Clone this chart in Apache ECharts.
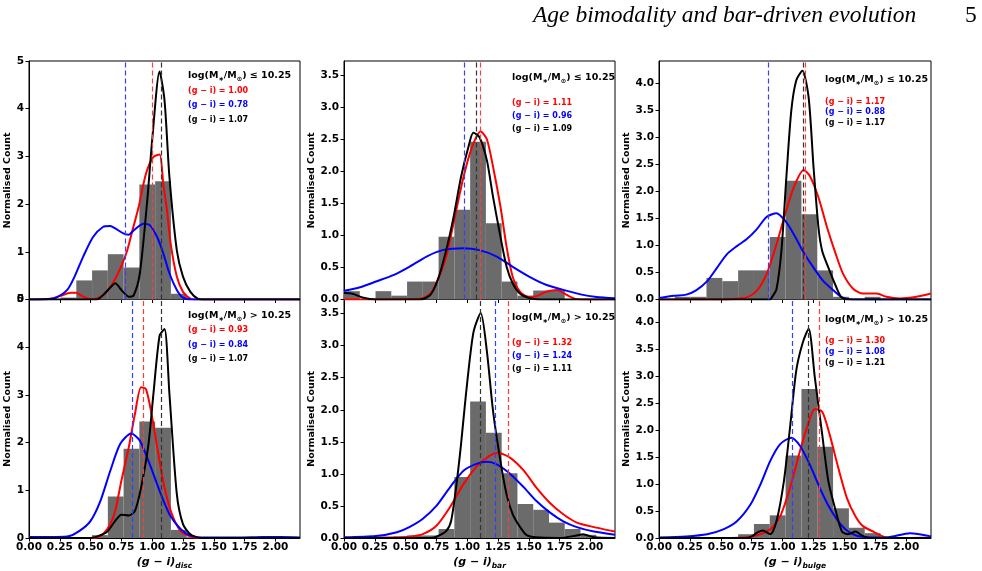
<!DOCTYPE html>
<html>
<head>
<meta charset="utf-8">
<script src="https://cdn.jsdelivr.net/npm/echarts@6/dist/echarts.min.js"></script>
<style>
  html, body { margin: 0; background: #fff; }
  #container { width: 982px; height: 571px; }
</style>
</head>
<body>
<div id="container"></div>
<script>
// histogram bins all start at 0 and are binWidth wide
const binWidth = 0.128;
const xTicks = [0, 0.25, 0.5, 0.75, 1, 1.25, 1.5, 1.75, 2];
const yTicksDisc = [0, 1, 2, 3, 4, 5];
const yTicksBar = [0, 0.5, 1, 1.5, 2, 2.5, 3, 3.5];
const yTicksBulge = [0, 0.5, 1, 1.5, 2, 2.5, 3, 3.5, 4];
const components = ['disc', 'bar', 'bulge'];

const histDiscLow = [0, 0, 0.04, 0.40, 0.61, 0.95, 0.67, 2.41, 2.48, 0.12];
const histDiscHigh = [0, 0, 0, 0, 0.06, 0.87, 1.87, 2.44, 2.31, 0.17];
const histBarLow = [0.13, 0, 0.13, 0.06, 0.28, 0.28, 0.98, 1.40, 2.46, 1.19, 0.28, 0.06, 0.14, 0.14];
const histBarHigh = [0, 0, 0, 0, 0.04, 0.04, 0.14, 0.95, 2.13, 1.64, 1.01, 0.53, 0.44, 0.24, 0.14, 0.05];
const histBulgeLow = [0, 0.05, 0.05, 0.40, 0.34, 0.54, 0.54, 1.16, 2.20, 1.58, 0.54, 0.05, 0, 0.05];
const histBulgeHigh = [0, 0, 0, 0, 0, 0.07, 0.26, 0.42, 1.53, 2.76, 1.69, 0.55, 0.19, 0.09];

// KDE curves [g-i, normalised count]
const discLowBlue = [[0,0],[0.15,0.01],[0.22,0.04],[0.31,0.20],[0.37,0.48],[0.44,0.90],[0.52,1.31],[0.60,1.52],[0.66,1.54],[0.70,1.49],[0.77,1.38],[0.81,1.36],[0.85,1.45],[0.93,1.59],[0.98,1.56],[1.04,1.31],[1.09,0.97],[1.14,0.55],[1.20,0.20],[1.25,0.04],[1.32,0],[2.2,0]];
const discLowRed = [[0,0],[0.17,0.01],[0.25,0.07],[0.34,0.14],[0.38,0.14],[0.44,0.06],[0.50,0.01],[0.56,0.03],[0.63,0.16],[0.71,0.48],[0.79,0.97],[0.84,1.45],[0.89,1.94],[0.95,2.64],[1.01,2.99],[1.06,3.04],[1.09,2.43],[1.12,1.87],[1.15,1.17],[1.20,0.48],[1.25,0.16],[1.31,0.02],[1.38,0],[2.2,0]];
const discLowBlack = [[0,0],[0.55,0],[0.60,0.09],[0.66,0.25],[0.70,0.34],[0.75,0.20],[0.81,0.06],[0.85,0.09],[0.90,0.55],[0.96,2.08],[1.00,3.34],[1.06,4.78],[1.10,4.18],[1.14,2.57],[1.20,1.03],[1.25,0.48],[1.31,0.16],[1.37,0.02],[1.44,0],[2.2,0]];

const discHighBlue = [[0,0.02],[0.17,0.02],[0.31,0.03],[0.41,0.15],[0.50,0.36],[0.58,0.78],[0.66,1.41],[0.74,1.97],[0.83,2.19],[0.90,2.04],[0.98,1.55],[1.06,0.99],[1.14,0.50],[1.23,0.19],[1.31,0.05],[1.44,0.01],[1.70,0.01],[1.90,0.02],[2.05,0.02],[2.2,0.01]];
const discHighRed = [[0,0],[0.50,0],[0.55,0.01],[0.60,0.08],[0.66,0.29],[0.70,0.57],[0.75,1.20],[0.81,1.90],[0.86,2.60],[0.91,3.16],[0.95,3.12],[1.00,2.53],[1.05,1.76],[1.10,1.06],[1.16,0.50],[1.23,0.15],[1.31,0.03],[1.39,0],[2.2,0]];
const discHighBlack = [[0,0],[0.50,0],[0.55,0.03],[0.63,0.12],[0.70,0.36],[0.75,0.49],[0.81,0.47],[0.86,0.57],[0.91,1.06],[0.97,1.97],[1.01,3.02],[1.06,4.24],[1.10,4.38],[1.14,3.02],[1.20,0.92],[1.25,0.29],[1.31,0.08],[1.39,0],[2.2,0]];

const barLowBlue = [[0,0.135],[0.13,0.19],[0.26,0.28],[0.40,0.38],[0.53,0.51],[0.67,0.67],[0.80,0.77],[0.97,0.80],[1.10,0.77],[1.24,0.67],[1.37,0.51],[1.51,0.35],[1.64,0.23],[1.78,0.15],[1.92,0.08],[2.05,0.04],[2.2,0.02]];
const barLowRed = [[0,0],[0.62,0.01],[0.70,0.09],[0.76,0.30],[0.83,0.67],[0.90,1.29],[0.97,1.91],[1.04,2.38],[1.11,2.62],[1.16,2.50],[1.21,2.07],[1.27,1.45],[1.32,0.82],[1.37,0.35],[1.43,0.12],[1.50,0.04],[1.56,0.05],[1.64,0.12],[1.73,0.15],[1.81,0.07],[1.88,0.01],[1.98,0],[2.2,0]];
const barLowBlack = [[0,0.10],[0.07,0.09],[0.15,0.03],[0.26,0],[0.62,0],[0.70,0.07],[0.76,0.30],[0.83,0.77],[0.89,1.29],[0.95,1.91],[1.01,2.38],[1.05,2.60],[1.10,2.53],[1.16,2.17],[1.21,1.60],[1.27,0.98],[1.32,0.51],[1.37,0.25],[1.43,0.09],[1.51,0.02],[1.62,0],[2.2,0]];

const barHighBlue = [[0,0.01],[0.26,0.03],[0.43,0.09],[0.53,0.17],[0.64,0.30],[0.75,0.50],[0.86,0.79],[0.97,1.05],[1.08,1.16],[1.16,1.19],[1.24,1.15],[1.35,1.00],[1.46,0.79],[1.56,0.58],[1.67,0.40],[1.78,0.26],[1.89,0.17],[2.03,0.10],[2.2,0.05]];
const barHighRed = [[0,0],[0.40,0.01],[0.53,0.02],[0.64,0.06],[0.75,0.19],[0.86,0.48],[0.97,0.84],[1.08,1.12],[1.18,1.28],[1.25,1.33],[1.35,1.25],[1.46,1.05],[1.56,0.79],[1.67,0.55],[1.78,0.37],[1.89,0.24],[2.03,0.17],[2.2,0.10]];
const barHighBlack = [[0,0],[0.70,0],[0.75,0.02],[0.83,0.11],[0.87,0.27],[0.91,0.79],[0.95,1.46],[0.99,2.24],[1.05,3.20],[1.11,3.51],[1.16,2.91],[1.21,1.98],[1.27,1.20],[1.32,0.68],[1.37,0.37],[1.43,0.17],[1.48,0.05],[1.56,0.01],[1.75,0],[1.89,0.04],[1.94,0.06],[2.03,0.01],[2.2,0]];

const bulgeLowBlue = [[0,0.03],[0.12,0.07],[0.22,0.09],[0.30,0.17],[0.39,0.34],[0.47,0.59],[0.55,0.84],[0.63,0.99],[0.71,1.12],[0.79,1.30],[0.87,1.53],[0.95,1.60],[1.02,1.46],[1.09,1.21],[1.17,0.87],[1.25,0.59],[1.33,0.34],[1.41,0.17],[1.48,0.04],[1.57,0],[2.2,0]];
const bulgeLowRed = [[0,0],[0.50,0],[0.60,0.01],[0.71,0.04],[0.79,0.16],[0.87,0.47],[0.95,1.02],[1.02,1.58],[1.09,2.08],[1.17,2.40],[1.22,2.29],[1.29,1.89],[1.36,1.33],[1.43,0.84],[1.49,0.47],[1.57,0.20],[1.65,0.11],[1.76,0.11],[1.84,0.05],[1.95,0.02],[2.06,0.04],[2.2,0.11]];
const bulgeLowBlack = [[0,0],[0.90,0],[0.91,0.03],[0.95,0.19],[0.99,0.90],[1.03,2.26],[1.07,3.50],[1.11,4.06],[1.16,4.24],[1.21,3.75],[1.25,2.45],[1.29,1.33],[1.32,0.90],[1.37,0.59],[1.43,0.25],[1.47,0.06],[1.52,0],[2.2,0]];

const bulgeHighBlue = [[0,0.01],[0.22,0.03],[0.39,0.07],[0.52,0.16],[0.63,0.31],[0.74,0.62],[0.82,0.99],[0.90,1.43],[0.98,1.74],[1.07,1.86],[1.14,1.71],[1.22,1.36],[1.30,0.93],[1.38,0.56],[1.47,0.25],[1.55,0.09],[1.65,0.02],[1.84,0.01],[2.03,0.09],[2.2,0.03]];
const bulgeHighRed = [[0,0],[0.50,0],[0.76,0.03],[0.90,0.16],[0.98,0.40],[1.06,0.93],[1.14,1.61],[1.21,2.14],[1.26,2.39],[1.32,2.34],[1.38,1.92],[1.45,1.30],[1.52,0.74],[1.59,0.40],[1.65,0.22],[1.74,0.11],[1.82,0.02],[1.90,0],[2.2,0.01]];
const bulgeHighBlack = [[0,0],[0.70,0],[0.75,0.03],[0.80,0.11],[0.84,0.14],[0.90,0.07],[0.95,0.31],[1.01,1.05],[1.06,2.05],[1.11,3.10],[1.16,3.60],[1.21,3.88],[1.26,2.98],[1.32,1.92],[1.37,1.05],[1.43,0.50],[1.48,0.12],[1.53,0.07],[1.59,0.12],[1.64,0.05],[1.71,0],[2.2,0]];

// dashed median lines [red, blue, black]
const medDiscLow = [1.00, 0.78, 1.07];
const medDiscHigh = [0.93, 0.84, 1.07];
const medBarLow = [1.11, 0.985, 1.075];
const medBarHigh = [1.33, 1.23, 1.11];
const medBulgeLow = [1.18, 0.88, 1.165];
const medBulgeHigh = [1.30, 1.08, 1.21];

// quoted (g-i) values [red, blue, black]
const txtDiscLow = ['1.00', '0.78', '1.07'];
const txtDiscHigh = ['0.93', '0.84', '1.07'];
const txtBarLow = ['1.11', '0.96', '1.09'];
const txtBarHigh = ['1.32', '1.24', '1.11'];
const txtBulgeLow = ['1.17', '0.88', '1.17'];
const txtBulgeHigh = ['1.30', '1.08', '1.21'];

const panels = [
  {col: 0, row: 0, hist: histDiscLow, curves: [discLowRed, discLowBlue, discLowBlack], med: medDiscLow, txt: txtDiscLow, sign: '≤'},
  {col: 0, row: 1, hist: histDiscHigh, curves: [discHighRed, discHighBlue, discHighBlack], med: medDiscHigh, txt: txtDiscHigh, sign: '>'},
  {col: 1, row: 0, hist: histBarLow, curves: [barLowRed, barLowBlue, barLowBlack], med: medBarLow, txt: txtBarLow, sign: '≤'},
  {col: 1, row: 1, hist: histBarHigh, curves: [barHighRed, barHighBlue, barHighBlack], med: medBarHigh, txt: txtBarHigh, sign: '>'},
  {col: 2, row: 0, hist: histBulgeLow, curves: [bulgeLowRed, bulgeLowBlue, bulgeLowBlack], med: medBulgeLow, txt: txtBulgeLow, sign: '≤'},
  {col: 2, row: 1, hist: histBulgeHigh, curves: [bulgeHighRed, bulgeHighBlue, bulgeHighBlack], med: medBulgeHigh, txt: txtBulgeHigh, sign: '>'}
];

// layout
const colLeft = [29, 344, 659];
const colWidth = [271, 271, 272];
const rowTop = [61, 299.5];
const rowHeight = [238.5, 239.5];
const yMax = [5, 3.72, 4.42];
const yTicks = [yTicksDisc, yTicksBar, yTicksBulge];
const yNameGap = [13, 23, 23];
// annotation anchor: x, y of the mass line, then y of the three colour lines
const annPos = [
  [188, 76, 91, 105, 120],
  [188, 316, 330, 345, 359],
  [512, 78, 103, 116, 129],
  [512, 318, 343, 356, 369],
  [825, 80, 101.5, 112, 122.5],
  [825, 320, 341, 351.5, 362.5]
];

const lineColors = ['#ff0000', '#0000ff', '#000000'];
const dashColors = ['#ff3c3c', '#3c3cff', '#333333'];
const FONT = 'DejaVu Sans';

const chart = echarts.init(document.getElementById('container'));

const grid = [], xAxis = [], yAxis = [], series = [], graphic = [];

panels.forEach((p, i) => {
  const c = p.col;
  grid.push({
    left: colLeft[c], top: rowTop[p.row], width: colWidth[c], height: rowHeight[p.row],
    show: true, borderColor: '#000', borderWidth: 1, backgroundColor: 'transparent'
  });
  xAxis.push({
    type: 'value', gridIndex: i, min: 0, max: 2.2,
    axisLine: {show: true, lineStyle: {color: '#000', width: 1}},
    axisTick: {show: true, length: 3.5, customValues: xTicks, lineStyle: {color: '#000'}},
    axisLabel: {
      show: p.row === 1, customValues: xTicks, margin: 4,
      color: '#000', fontFamily: FONT, fontWeight: 'bold', fontSize: 10.5,
      formatter: v => v.toFixed(2)
    },
    splitLine: {show: false},
    name: p.row === 1 ? '{m|(g − i)}{s|' + components[c] + '}' : '',
    nameLocation: 'middle', nameGap: 16,
    nameTextStyle: {
      rich: {
        m: {fontFamily: FONT, fontSize: 11, fontWeight: 'bold', fontStyle: 'italic', color: '#000', lineHeight: 16},
        s: {fontFamily: FONT, fontSize: 7.5, fontWeight: 'bold', fontStyle: 'italic', color: '#000', lineHeight: 8, verticalAlign: 'bottom'}
      }
    }
  });
  yAxis.push({
    type: 'value', gridIndex: i, min: 0, max: yMax[c],
    axisLine: {show: true, lineStyle: {color: '#000', width: 1}},
    axisTick: {show: true, length: 3.5, customValues: yTicks[c], lineStyle: {color: '#000'}},
    axisLabel: {
      customValues: yTicks[c], margin: 5,
      color: '#000', fontFamily: FONT, fontWeight: 'bold', fontSize: 10.5,
      formatter: v => c === 0 ? String(v) : v.toFixed(1)
    },
    splitLine: {show: false},
    name: 'Normalised Count', nameLocation: 'middle', nameGap: yNameGap[c],
    nameTextStyle: {fontFamily: FONT, fontWeight: 'bold', fontSize: 9.5, color: '#000'}
  });

  series.push({
    type: 'custom', xAxisIndex: i, yAxisIndex: i, z: 1,
    data: p.hist.map((h, k) => [k * binWidth, (k + 1) * binWidth, h]).filter(d => d[2] > 0),
    encode: {x: [0, 1], y: 2},
    renderItem: (params, api) => {
      const a = api.coord([api.value(0), api.value(2)]);
      const b = api.coord([api.value(1), 0]);
      return {
        type: 'rect',
        shape: {x: a[0], y: a[1], width: b[0] - a[0], height: b[1] - a[1]},
        style: {fill: '#6b6b6b'}
      };
    }
  });

  p.curves.forEach((curve, k) => {
    series.push({
      type: 'line', xAxisIndex: i, yAxisIndex: i, z: 3,
      data: curve, showSymbol: false, smooth: 0.25,
      lineStyle: {color: lineColors[k], width: 2},
      markLine: {
        silent: true, symbol: 'none', label: {show: false},
        lineStyle: {color: dashColors[k], type: [5, 3], width: 1.2},
        data: [{xAxis: p.med[k]}]
      }
    });
  });

  const pos = annPos[i];
  graphic.push({
    type: 'text', x: pos[0], y: pos[1],
    style: {
      text: 'log(M{s|∗}/M{s|⊙}) ' + p.sign + ' 10.25',
      fontFamily: FONT, fontWeight: 'bold', fontSize: 9.5, fill: '#000',
      align: 'left', verticalAlign: 'middle', lineHeight: 13,
      rich: {s: {fontFamily: FONT, fontWeight: 'bold', fontSize: 6.5, fill: '#000', lineHeight: 6, verticalAlign: 'bottom'}}
    }
  });
  p.txt.forEach((t, k) => {
    graphic.push({
      type: 'text', x: pos[0], y: pos[2 + k],
      style: {
        text: '(g − i) = ' + t,
        fontFamily: FONT, fontWeight: 'bold', fontSize: 8, fill: lineColors[k],
        align: 'left', verticalAlign: 'middle'
      }
    });
  });
});

graphic.push({
  type: 'text', x: 533, y: 16,
  style: {text: 'Age bimodality and bar-driven evolution', fontFamily: 'Liberation Serif', fontStyle: 'italic', fontSize: 23.5, fill: '#000', align: 'left', verticalAlign: 'middle'}
});
graphic.push({
  type: 'text', x: 965, y: 16,
  style: {text: '5', fontFamily: 'Liberation Serif', fontSize: 23.5, fill: '#000', align: 'left', verticalAlign: 'middle'}
});

chart.setOption({
  animation: false,
  backgroundColor: '#fff',
  grid, xAxis, yAxis, series, graphic
});
</script>
</body>
</html>
